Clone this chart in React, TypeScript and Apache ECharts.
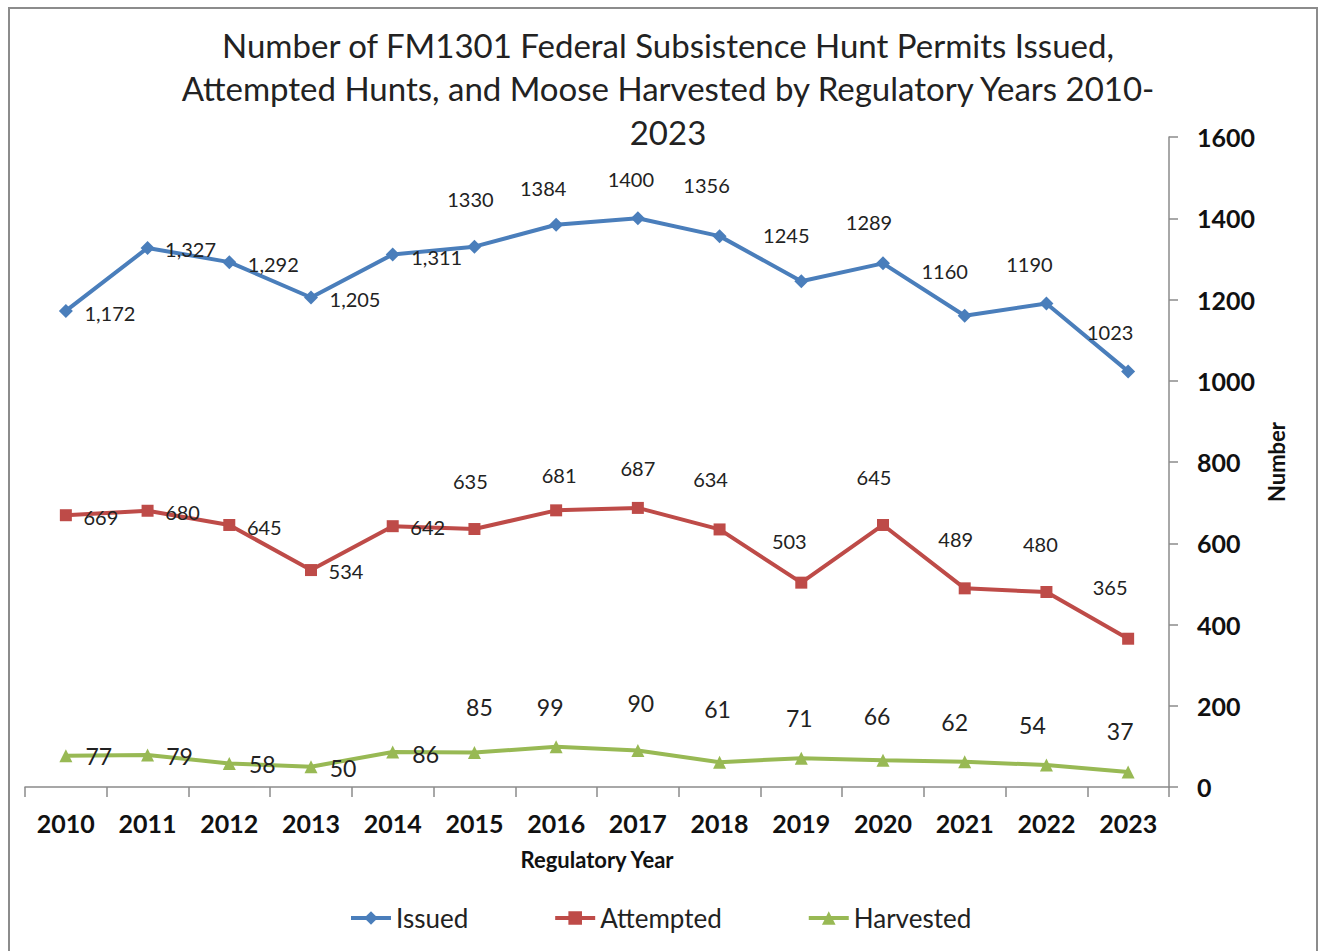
import React, { useEffect, useRef } from "react";
import * as echarts from "echarts";

const years = ["2010","2011","2012","2013","2014","2015","2016","2017","2018","2019","2020","2021","2022","2023"];
const issued = [1172, 1327, 1292, 1205, 1311, 1330, 1384, 1400, 1356, 1245, 1289, 1160, 1190, 1023];
const issuedLabelText = ["1,172","1,327","1,292","1,205","1,311","1330","1384","1400","1356","1245","1289","1160","1190","1023"];
const attempted = [669, 680, 645, 534, 642, 635, 681, 687, 634, 503, 645, 489, 480, 365];
const harvested = [77, 79, 58, 50, 86, 85, 99, 90, 61, 71, 66, 62, 54, 37];
const yTicks = [0, 200, 400, 600, 800, 1000, 1200, 1400, 1600];

const titleText = "Number of FM1301 Federal Subsistence Hunt Permits Issued,\nAttempted Hunts, and Moose Harvested by Regulatory Years 2010-\n2023";

// label placement offsets (relative to each marker centre)
const issuedOffsets = [[44,2],[43,1],[44,2],[44,2],[44,3],[-4,-48],[-13,-37],[-7,-39],[-13,-51],[-15,-46],[-14,-41],[-20,-45],[-17,-40],[-18,-39]];
const attemptedOffsets = [[35,2],[35,1],[35,2],[35,1],[35,1],[-4,-48],[3,-35],[0,-40],[-9,-50],[-12,-42],[-9,-48],[-9,-49],[-6,-48],[-18,-52]];
const harvestedOffsets = [[33,0],[32,1],[33,1],[32,1],[33,2],[5,-45],[-6,-40],[3,-47],[-2,-53],[-2,-40],[-6,-44],[-10,-40],[-14,-40],[-8,-41]];

const FONT = "Lato";

export default function App() {
  const ref = useRef<HTMLDivElement>(null);
  useEffect(() => {
    if (!ref.current) return;
    const chart = echarts.init(ref.current, undefined, { renderer: "svg" });
    const mk = (vals: number[], offs: number[][], texts?: string[]) =>
      vals.map((v, i) => ({
        value: v,
        label: { offset: offs[i], formatter: texts ? texts[i] : String(v) },
      }));
    chart.setOption({
      animation: false,
      backgroundColor: "#ffffff",
      textStyle: { fontFamily: FONT },
      title: {
        text: titleText,
        left: 663,
        textAlign: "center",
        top: 18,
        textStyle: { fontFamily: FONT, fontSize: 33, fontWeight: "normal", color: "#222222", lineHeight: 43.5 },
      },
      graphic: [
        {
          type: "rect",
          z: -10,
          shape: { x: 9, y: 8, width: 1308, height: 1000 },
          style: { fill: "none", stroke: "#8c8c8c", lineWidth: 2 },
        },
      ],
      legend: {
        left: 344,
        top: 900,
        itemWidth: 40,
        itemHeight: 17,
        itemGap: 85,
        lineStyle: { width: 4 },
        textStyle: { fontFamily: FONT, fontSize: 26, color: "#222222" },
        data: ["Issued", "Attempted", "Harvested"],
      },
      grid: { left: 25, right: 151, top: 137, bottom: 164 },
      xAxis: {
        type: "category",
        data: years,
        boundaryGap: true,
        name: "Regulatory Year",
        nameLocation: "middle",
        nameGap: 61,
        nameTextStyle: { fontFamily: FONT, fontSize: 22, fontWeight: "bold", color: "#111111" },
        axisLine: { lineStyle: { color: "#8b8b8b", width: 1.5 } },
        axisTick: { show: true, length: 10, alignWithLabel: false, lineStyle: { color: "#8b8b8b", width: 1.5 } },
        axisLabel: { fontFamily: FONT, fontSize: 25, fontWeight: "bold", color: "#111111", margin: 23 },
        splitLine: { show: false },
      },
      yAxis: {
        type: "value",
        position: "right",
        min: yTicks[0],
        max: yTicks[yTicks.length - 1],
        interval: 200,
        name: "Number",
        nameLocation: "middle",
        nameGap: 91,
        nameTextStyle: { fontFamily: FONT, fontSize: 22, fontWeight: "bold", color: "#111111" },
        axisLine: { show: true, lineStyle: { color: "#8b8b8b", width: 1.5 } },
        axisTick: { show: true, length: 9, lineStyle: { color: "#8b8b8b", width: 1.5 } },
        axisLabel: { fontFamily: FONT, fontSize: 25, fontWeight: "bold", color: "#111111", margin: 28, formatter: (v: number) => String(v) },
        splitLine: { show: false },
      },
      series: [
        {
          name: "Issued",
          type: "line",
          data: mk(issued, issuedOffsets, issuedLabelText),
          symbol: "diamond",
          symbolSize: 14,
          lineStyle: { color: "#4A7EBB", width: 4 },
          itemStyle: { color: "#4A7EBB" },
          label: { show: true, position: "inside", fontFamily: FONT, fontSize: 20, color: "#222222" },
        },
        {
          name: "Attempted",
          type: "line",
          data: mk(attempted, attemptedOffsets),
          symbol: "rect",
          symbolSize: 12,
          lineStyle: { color: "#BE4B48", width: 4 },
          itemStyle: { color: "#BE4B48" },
          label: { show: true, position: "inside", fontFamily: FONT, fontSize: 20, color: "#222222" },
        },
        {
          name: "Harvested",
          type: "line",
          data: mk(harvested, harvestedOffsets),
          symbol: "triangle",
          symbolSize: 13,
          lineStyle: { color: "#98B954", width: 4 },
          itemStyle: { color: "#98B954" },
          label: { show: true, position: "inside", fontFamily: FONT, fontSize: 23, color: "#222222" },
        },
      ],
    });
    return () => chart.dispose();
  }, []);
  return (
    <div
      ref={ref}
      style={{ position: "absolute", left: 0, top: 0, width: 1320, height: 951 }}
    />
  );
}
